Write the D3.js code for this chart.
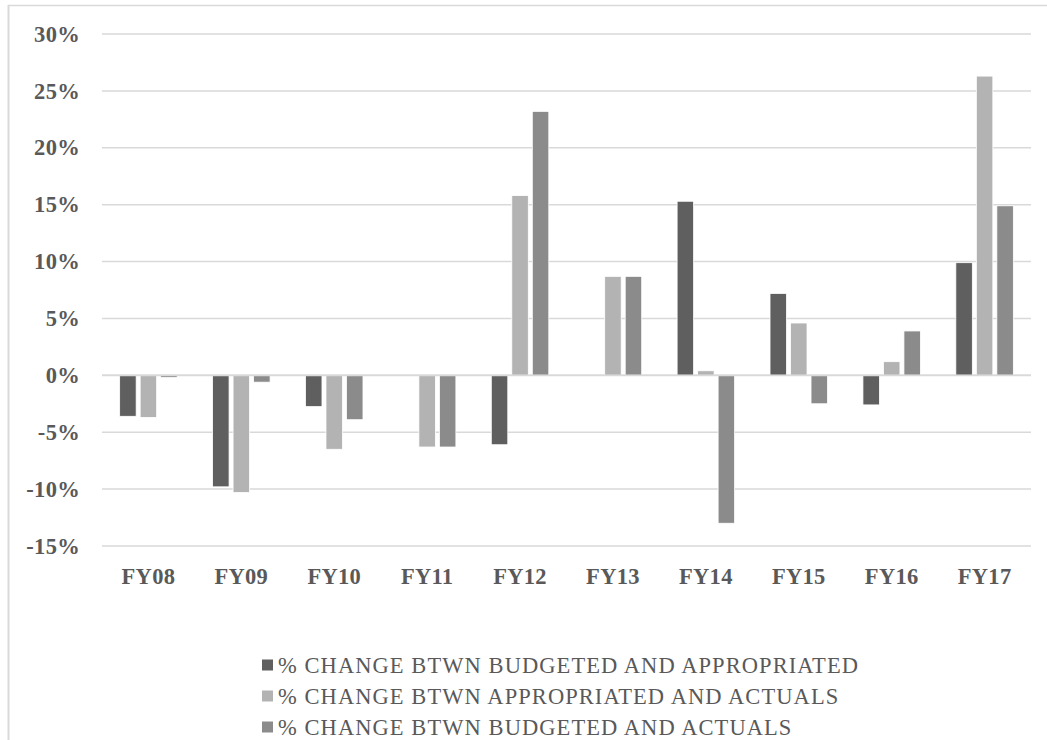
<!DOCTYPE html>
<html>
<head>
<meta charset="utf-8">
<script src="https://cdn.jsdelivr.net/npm/d3@7/dist/d3.min.js"></script>
<style>
  html, body { margin: 0; padding: 0; background: #fff; }
  svg { display: block; }
</style>
</head>
<body>
<svg id="chart" width="1047" height="740"></svg>
<script>
// Fiscal years on the category axis
const categories = ["FY08", "FY09", "FY10", "FY11", "FY12", "FY13", "FY14", "FY15", "FY16", "FY17"];

// Percent change, one array per series
const budgetedVsAppropriated = [-3.6, -9.8, -2.75, 0, -6.1, 0, 15.3, 7.2, -2.6, 9.9];
const appropriatedVsActuals  = [-3.7, -10.3, -6.5, -6.3, 15.8, 8.7, 0.4, 4.6, 1.2, 26.3];
const budgetedVsActuals      = [-0.2, -0.6, -3.9, -6.3, 23.2, 8.7, -13.0, -2.5, 3.9, 14.9];

const seriesNames = [
  "% CHANGE BTWN BUDGETED AND APPROPRIATED",
  "% CHANGE BTWN APPROPRIATED AND ACTUALS",
  "% CHANGE BTWN BUDGETED AND ACTUALS"
];
const seriesColors = ["#5f5f5f", "#b3b3b3", "#8b8b8b"];

// Value-axis ticks
const yTicks = [-15, -10, -5, 0, 5, 10, 15, 20, 25, 30];
const yTickLabels = ["-15%", "-10%", "-5%", "0%", "5%", "10%", "15%", "20%", "25%", "30%"];

const seriesValues = [budgetedVsAppropriated, appropriatedVsActuals, budgetedVsActuals];
const rows = categories.map((c, i) => ({
  cat: c,
  vals: seriesValues.map((arr, s) => ({ s, v: arr[i] }))
}));

const svg = d3.select("#chart");
const textColor = "#595959";
const gridColor = "#d9d9d9";
const serif = "'Liberation Serif', 'Times New Roman', Times, serif";

svg.append("rect").attr("width", 1047).attr("height", 740).attr("fill", "#fff");

// Chart-area frame (left and top edges)
svg.append("line").attr("x1", 8.5).attr("x2", 8.5).attr("y1", 5).attr("y2", 740)
  .attr("stroke", gridColor).attr("stroke-width", 2);
svg.append("line").attr("x1", 8).attr("x2", 1047).attr("y1", 5.5).attr("y2", 5.5)
  .attr("stroke", gridColor).attr("stroke-width", 1.5);

const plotLeft = 102, plotRight = 1031;
const y = d3.scaleLinear().domain([-15, 30]).range([546, 34]);

const x0 = d3.scaleBand().domain(categories).range([plotLeft, plotRight])
  .paddingInner(0.381).paddingOuter(0.19);
const x1 = d3.scaleBand().domain([0, 1, 2]).range([0, x0.bandwidth()])
  .paddingInner(0.195).paddingOuter(0);

// Gridlines
const grid = svg.append("g");
grid.selectAll("line").data(yTicks).join("line")
  .attr("x1", plotLeft).attr("x2", plotRight)
  .attr("y1", d => y(d)).attr("y2", d => y(d))
  .attr("stroke", gridColor).attr("stroke-width", 1.5);

// Y axis labels
const yAxis = d3.axisLeft(y).tickValues(yTicks).tickSize(0).tickPadding(0)
  .tickFormat((d, i) => yTickLabels[i]);
const yg = svg.append("g").attr("transform", "translate(80,0)").call(yAxis);
yg.select(".domain").remove();
yg.selectAll("text")
  .attr("font-family", serif).attr("font-weight", "bold").attr("font-size", 22.5)
  .attr("letter-spacing", 0.3)
  .attr("fill", textColor);

// Bars
const groups = svg.append("g").selectAll("g").data(rows).join("g")
  .attr("transform", d => `translate(${x0(d.cat)},0)`);
groups.selectAll("rect").data(d => d.vals).join("rect")
  .attr("x", d => x1(d.s))
  .attr("width", x1.bandwidth())
  .attr("y", d => y(Math.max(0, d.v)))
  .attr("height", d => Math.abs(y(d.v) - y(0)))
  .attr("fill", d => seriesColors[d.s])
  .attr("stroke", "#fff").attr("stroke-width", 0.8);

// Zero line on top of bar bases
svg.append("line").attr("x1", plotLeft).attr("x2", plotRight)
  .attr("y1", y(0)).attr("y2", y(0))
  .attr("stroke", gridColor).attr("stroke-width", 1.8);

// Category labels
const xAxis = d3.axisBottom(x0).tickSize(0).tickPadding(0);
const xg = svg.append("g").attr("transform", "translate(0,576)").call(xAxis);
xg.select(".domain").remove();
xg.selectAll("text")
  .attr("dy", "0.35em")
  .attr("font-family", serif).attr("font-weight", "bold").attr("font-size", 22.5)
  .attr("letter-spacing", 0.3)
  .attr("fill", textColor);

// Legend
const legendX = 262, legendRows = [665, 696, 727];
const legend = svg.append("g");
seriesNames.forEach((name, i) => {
  legend.append("rect")
    .attr("x", legendX).attr("y", legendRows[i] - 5.5)
    .attr("width", 11).attr("height", 11)
    .attr("fill", seriesColors[i]);
  legend.append("text")
    .attr("class", "legend-label")
    .attr("x", legendX + 16).attr("y", legendRows[i])
    .attr("dy", "0.35em")
    .attr("font-family", serif).attr("font-size", 22.5)
    .attr("fill", textColor)
    .text(name);
});
// Spread legend letters so the first entry spans its intended width
const labels = legend.selectAll("text.legend-label");
const first = labels.node();
const natural = first.getComputedTextLength();
const n = seriesNames[0].length;
const spacing = Math.max(0, (580 - natural) / (n - 1));
labels.attr("letter-spacing", spacing);
</script>
</body>
</html>
